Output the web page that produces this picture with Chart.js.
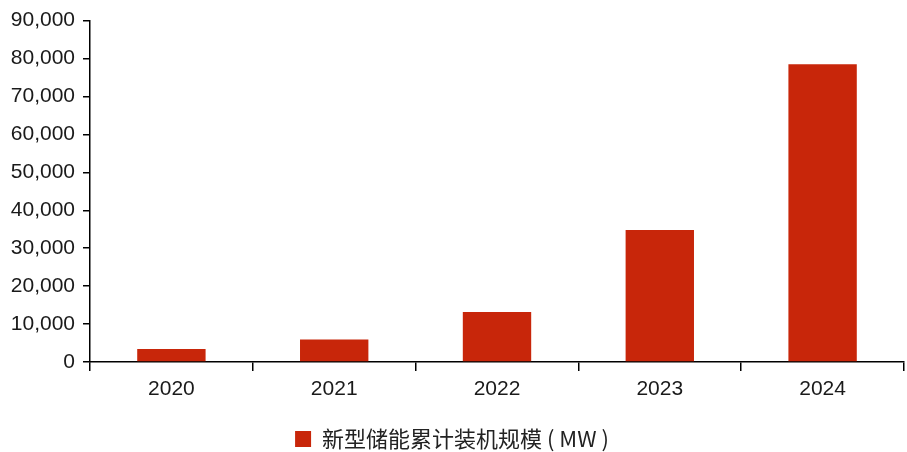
<!DOCTYPE html>
<html>
<head>
<meta charset="utf-8">
<script src="https://cdn.jsdelivr.net/npm/chart.js@4.4.1/dist/chart.umd.min.js"></script>
<style>
  html, body { margin: 0; padding: 0; background: #fff; }
  #wrap { width: 907px; height: 452px; }
</style>
</head>
<body>
<div id="wrap"><canvas id="grafico"></canvas></div>
<script>
// 新型储能累计装机规模 (MW), 2020-2024
const years = ['2020', '2021', '2022', '2023', '2024'];
const capacityMW = [3400, 5900, 13200, 34800, 78500];
const seriesLabel = '新型储能累计装机规模 ( MW )';

const barColor = '#c8260a';
const inkColor = '#1a1a1a';
const fontFamily = '"Liberation Sans", Arial, "Noto Sans CJK SC", sans-serif';

const ctx = document.getElementById('grafico');

new Chart(ctx, {
  type: 'bar',
  data: {
    labels: years,
    datasets: [{
      label: seriesLabel,
      data: capacityMW,
      backgroundColor: barColor,
      borderWidth: 0,
      categoryPercentage: 1,
      barPercentage: 0.42
    }]
  },
  options: {
    responsive: true,
    maintainAspectRatio: false,
    animation: false,
    // negative bottom padding pulls the legend closer to the canvas edge
    layout: { padding: { top: 4, right: 3, left: 0, bottom: -8 } },
    scales: {
      x: {
        grid: {
          display: true,
          drawOnChartArea: false,
          drawTicks: true,
          tickLength: 9,
          color: '#000',
          lineWidth: 1.5
        },
        border: { display: true, color: '#000', width: 1.5 },
        ticks: {
          color: inkColor,
          padding: 6,
          font: { family: fontFamily, size: 21 }
        },
        afterFit: (scale) => { scale.height = 64; }
      },
      y: {
        min: 0,
        max: 90000,
        grid: {
          display: true,
          drawOnChartArea: false,
          drawTicks: true,
          tickLength: 7,
          color: '#000',
          lineWidth: 1.5
        },
        border: { display: true, color: '#000', width: 1.5 },
        ticks: {
          stepSize: 10000,
          color: inkColor,
          padding: 8,
          font: { family: fontFamily, size: 21 },
          callback: (v) => v.toLocaleString('en-US')
        },
        afterFit: (scale) => { scale.width = 90; }
      }
    },
    plugins: {
      legend: {
        position: 'bottom',
        labels: {
          color: '#222',
          boxWidth: 16,
          boxHeight: 16,
          padding: 2,
          font: { family: '"Noto Sans CJK SC", sans-serif', size: 22, lineHeight: 1 }
        }
      },
      tooltip: { enabled: false }
    }
  }
});
</script>
</body>
</html>
